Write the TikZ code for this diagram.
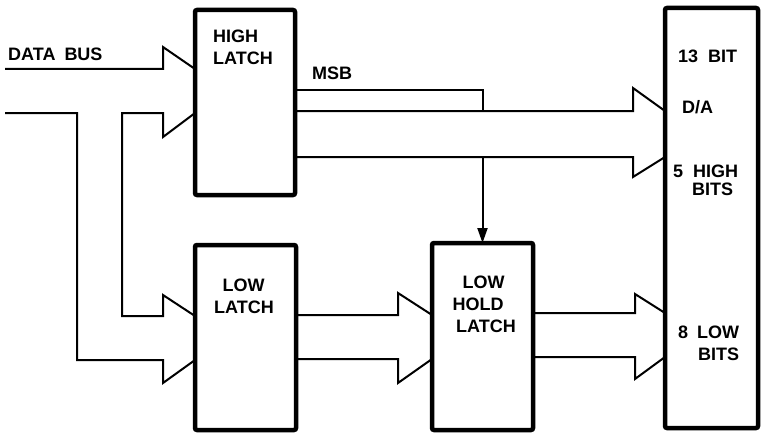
\documentclass[tikz,border=0pt]{standalone}
\usepackage{fontspec}
\setmainfont{Liberation Sans}
\usetikzlibrary{arrows.meta}
\begin{document}
\begin{tikzpicture}[x=1pt,y=-1pt,
  blk/.style={draw, line width=4.5pt, rounded corners=2pt, inner sep=0pt, outer sep=0pt, shape=rectangle},
  wire/.style={line width=2pt},
  lbl/.style={inner sep=0pt, font=\fontsize{18}{20}\selectfont\bfseries}]
\useasboundingbox (0,0) rectangle (763,436);
% blocks
\node[blk, minimum width=100pt, minimum height=185pt] (hl) at (245,102.5) {};
\node[blk, minimum width=101pt, minimum height=185pt] (ll) at (245.5,337.5) {};
\node[blk, minimum width=101pt, minimum height=187pt] (lh) at (482.5,336.5) {};
\node[blk, minimum width=93pt, minimum height=420pt] (da) at (711.5,218) {};
% labels
\node[lbl, anchor=base west] (t1) at (213,43) {HIGH};
\node[lbl, anchor=base west] (t2) at (213,64) {LATCH};
\node[lbl, anchor=base west] (t3) at (312,80) {MSB};
\node[lbl, anchor=base west] (t4) at (8,60) {DATA\hspace{9pt}BUS};
\node[lbl, anchor=base west] (t5) at (678,63) {13\hspace{10pt}BIT};
\node[lbl, anchor=base west] (t6) at (682,113) {D/A};
\node[lbl, anchor=base west] (t7) at (673,177) {5\hspace{10pt}HIGH};
\node[lbl, anchor=base west] (t8) at (692,195) {BITS};
\node[lbl, anchor=base] (t9) at (243.5,291) {LOW};
\node[lbl, anchor=base] (t10) at (244,313) {LATCH};
\node[lbl, anchor=base] (t11) at (483.5,288) {LOW};
\node[lbl, anchor=base] (t12) at (478,310) {HOLD};
\node[lbl, anchor=base] (t13) at (486,332) {LATCH};
\node[lbl, anchor=base west] (t14) at (678,338) {8\hspace{9pt}LOW};
\node[lbl, anchor=base west] (t15) at (698,360) {BITS};
% data bus into high latch and low latch
\draw[wire] (5,69) -- (163,69) -- (163,47) -- (hl.west |- 0,69);
\draw[wire] (hl.west |- 0,113) -- (163,137) -- (163,113) -- (122,113) -- (122,316) -- (163,316) -- (163,295) -- (ll.west |- 0,316);
\draw[wire] (5,113) -- (77,113) -- (77,360) -- (163,360) -- (163,383) -- (ll.west |- 0,360);
% low latch to low hold latch
\draw[wire] (ll.east |- 0,315) -- (398,315) -- (398,293) -- (lh.west |- 0,315);
\draw[wire] (ll.east |- 0,359) -- (398,359) -- (398,383) -- (lh.west |- 0,359);
% low hold latch to D/A
\draw[wire] (lh.east |- 0,313) -- (635,313) -- (635,294) -- (da.west |- 0,313);
\draw[wire] (lh.east |- 0,357) -- (635,357) -- (635,379) -- (da.west |- 0,357);
% high latch to D/A
\draw[wire] (hl.east |- 0,90) -- (483,90) -- (483,111);
\draw[wire] (hl.east |- 0,111) -- (633,111) -- (633,88) -- (da.west |- 0,111);
\draw[wire] (hl.east |- 0,157) -- (633,157) -- (633,177) -- (da.west |- 0,157);
% MSB to low hold latch
\draw[wire, -{Triangle[length=15pt,width=10pt]}] (lh.north |- 0,157) -- (lh.north);
\end{tikzpicture}
\end{document}
